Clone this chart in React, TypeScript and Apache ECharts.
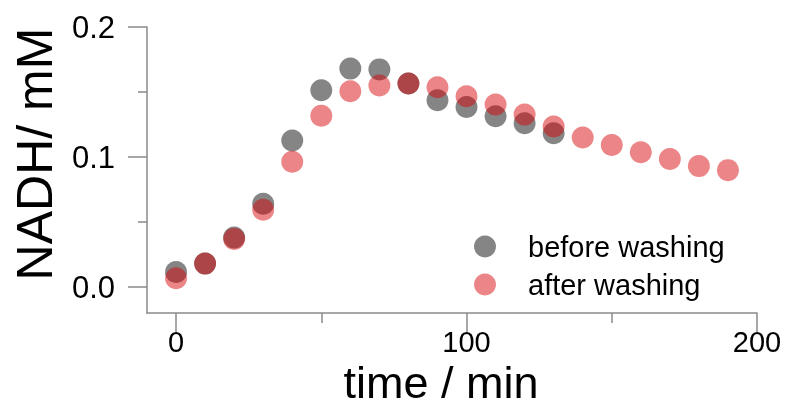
import React, { useEffect, useRef } from "react";
import * as echarts from "echarts";

const times = [0, 10, 20, 30, 40, 50, 60, 70, 80, 90, 100, 110, 120, 130, 140, 150, 160, 170, 180, 190];
const beforeWashing = [0.0116, 0.018, 0.038, 0.064, 0.1127, 0.1514, 0.168, 0.1674, 0.1566, 0.1437, 0.1385, 0.1313, 0.126, 0.1183];
const afterWashing = [0.0067, 0.018, 0.037, 0.0594, 0.0964, 0.1318, 0.1506, 0.155, 0.1566, 0.1537, 0.1467, 0.1403, 0.1326, 0.1235, 0.115, 0.1093, 0.1036, 0.0984, 0.093, 0.0899];
const xMajorTicks = [0, 100, 200];
const xMinorTicks = [50, 150];
const yMajorTicks = [0, 0.1, 0.2];
const yMinorTicks = [0.05, 0.15];
const seriesNames = ["before washing", "after washing"];

const FONT = "Liberation Sans, Arial, Helvetica, sans-serif";
const AXIS_COLOR = "#8a8a8a";
const GRAY = "#666666";
const RED = "rgba(215,0,5,0.6)";

export default function App() {
  const ref = useRef<HTMLDivElement>(null);
  useEffect(() => {
    if (!ref.current) return;
    const chart = echarts.init(ref.current, undefined, { renderer: "svg" });
    const axisLine = { show: true, onZero: false, lineStyle: { color: AXIS_COLOR, width: 1.5 } };
    const tickStyle = { color: AXIS_COLOR, width: 1.5 };
    chart.setOption({
      animation: false,
      textStyle: { fontFamily: FONT },
      grid: { left: 147, right: 30, top: 27, bottom: 94, containLabel: false },
      xAxis: [
        {
          type: "value",
          min: -10,
          max: 200,
          axisLine,
          splitLine: { show: false },
          axisTick: { show: true, customValues: xMajorTicks, length: 19, lineStyle: tickStyle },
          axisLabel: { customValues: xMajorTicks, fontSize: 29, color: "#000", margin: 14, fontFamily: FONT },
        },
        {
          type: "value",
          min: -10,
          max: 200,
          position: "bottom",
          axisLine: { show: false, onZero: false },
          splitLine: { show: false },
          axisTick: { show: true, customValues: xMinorTicks, length: 10, lineStyle: tickStyle },
          axisLabel: { show: false },
        },
      ],
      yAxis: [
        {
          type: "value",
          min: -0.02,
          max: 0.2,
          axisLine,
          splitLine: { show: false },
          axisTick: { show: true, customValues: yMajorTicks, length: 19, lineStyle: tickStyle },
          axisLabel: {
            customValues: yMajorTicks,
            fontSize: 31,
            color: "#000",
            margin: 32,
            fontFamily: FONT,
            formatter: (v: number) => v.toFixed(1),
          },
        },
        {
          type: "value",
          min: -0.02,
          max: 0.2,
          position: "left",
          axisLine: { show: false, onZero: false },
          splitLine: { show: false },
          axisTick: { show: true, customValues: yMinorTicks, length: 9, lineStyle: tickStyle },
          axisLabel: { show: false },
        },
      ],
      legend: {
        data: seriesNames,
        orient: "vertical",
        left: 474,
        top: 232,
        padding: 0,
        itemWidth: 22,
        itemHeight: 22,
        itemGap: 9,
        icon: "circle",
        textStyle: { fontSize: 29, color: "#000", fontFamily: FONT, padding: [0, 0, 0, 27] },
      },
      graphic: [
        {
          type: "text",
          x: 441,
          y: 382,
          style: {
            text: "time / min",
            fontSize: 45,
            lineHeight: 34,
            fontFamily: FONT,
            fill: "#000",
            textAlign: "center",
            textVerticalAlign: "middle",
          },
        },
        {
          type: "text",
          x: 35,
          y: 154,
          rotation: Math.PI / 2,
          style: { text: "NADH/ mM", fontSize: 50, fontFamily: FONT, fill: "#000", textAlign: "center", textVerticalAlign: "middle" },
        },
      ],
      series: [
        {
          name: seriesNames[0],
          type: "scatter",
          symbol: "circle",
          symbolSize: 22,
          itemStyle: { color: GRAY },
          data: beforeWashing.map((v, i) => [times[i], v]),
        },
        {
          name: seriesNames[1],
          type: "scatter",
          symbol: "circle",
          symbolSize: 22,
          itemStyle: { color: RED },
          data: afterWashing.map((v, i) => [times[i], v]),
        },
      ],
    });
    return () => chart.dispose();
  }, []);
  return <div ref={ref} style={{ position: "fixed", left: 0, top: 0, width: 787, height: 407 }} />;
}
